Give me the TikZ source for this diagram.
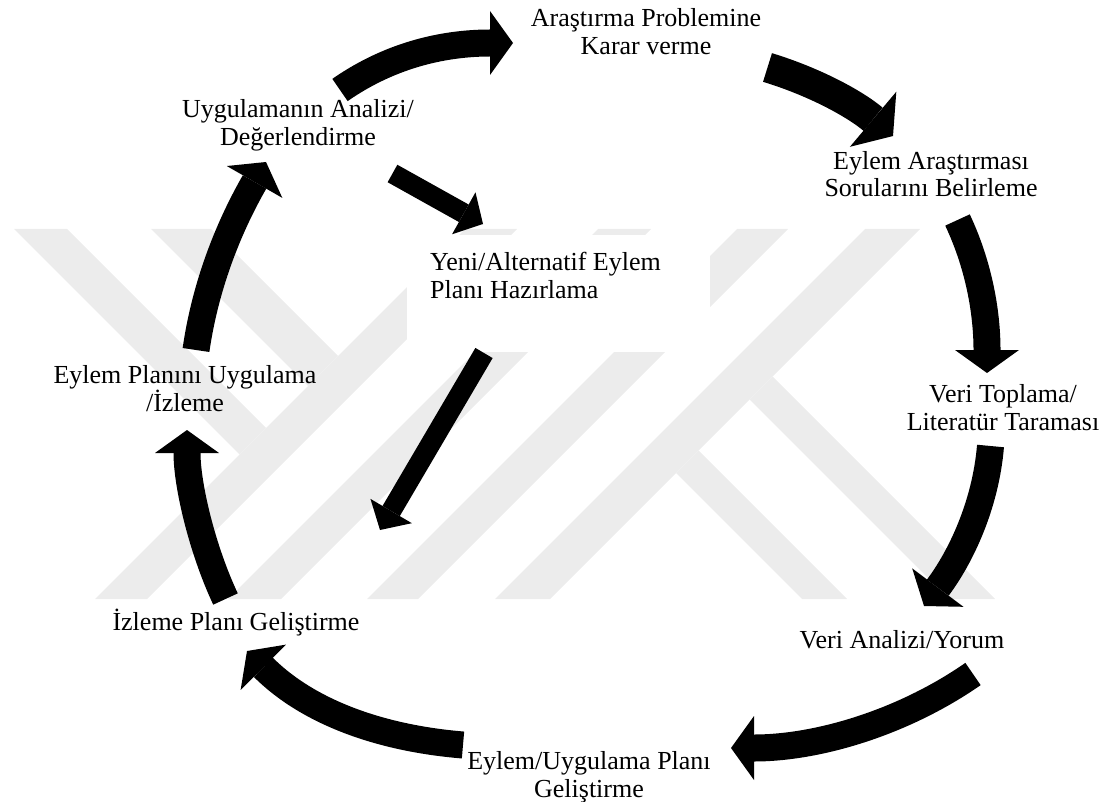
\documentclass[tikz,border=0pt]{standalone}
\usepackage{fontspec}
\setmainfont{Liberation Serif}
\usetikzlibrary{arrows.meta}
\definecolor{wm}{RGB}{236,236,236}
\begin{document}
\begin{tikzpicture}[x=1pt,y=-1pt,
  cyc/.style={draw=black, line width=27pt, -{Triangle[width=64pt,length=23pt,line width=0pt]}},
  bigcyc/.style={draw=black, line width=30pt, -{Triangle[width=72pt,length=26pt,line width=0pt]}},
  strarrow/.style={draw=black, line width=20pt, -{Triangle[width=48pt,length=22pt,line width=0pt]}},
  lbl/.style={font=\fontsize{26}{28}\selectfont, align=center, inner sep=0pt, anchor=base}]
\useasboundingbox (0,0) rectangle (1099,802);
% watermark
\fill[wm] (465,229) -- (517,229) -- (147,599) -- (95,599) -- cycle;
\fill[wm] (598,229) -- (651,229) -- (281,599) -- (228,599) -- cycle;
\fill[wm] (737,229) -- (788,229) -- (418,599) -- (367,599) -- cycle;
\fill[wm] (865,229) -- (920,229) -- (550,599) -- (495,599) -- cycle;
\fill[wm] (14,229) -- (67,229) -- (266,428) -- (239.5,454.5) -- cycle;
\fill[wm] (151,229) -- (211,229) -- (338,356) -- (308,386) -- cycle;
\fill[wm] (676,473) -- (698.5,450.5) -- (847,599) -- (802,599) -- cycle;
\fill[wm] (749.5,399.5) -- (772.5,376.5) -- (995,599) -- (949,599) -- cycle;
% white box behind the centre text
\fill[white] (407,235) rectangle (710,352);
% texts (anchor base = baseline of the last line)
\node[lbl] (n1) at (646,55) {Araştırma Problemine\\Karar verme};
\node[lbl] (n2) at (298,146) {Uygulamanın Analizi/\\Değerlendirme};
\node[lbl] (n3) at (931,197) {Eylem Araştırması\\Sorularını Belirleme};
\node[lbl] (n4) at (1003,430) {Veri Toplama/\\Literatür Taraması};
\node[lbl] (n5) at (902,648) {Veri Analizi/Yorum};
\node[lbl] (n6) at (589,797) {Eylem/Uygulama Planı\\Geliştirme};
\node[lbl] (n7) at (236,630) {İzleme Planı Geliştirme};
\node[lbl] (n8) at (185,411) {Eylem Planını Uygulama\\/İzleme};
\node[lbl, align=left, anchor=base west] (n9) at (430,298) {Yeni/Alternatif Eylem\\Planı Hazırlama};
% arrow end points
\coordinate (a1s) at (340,90);    \coordinate (a1e) at (513,43);
\coordinate (a2s) at (767.5,67.5); \coordinate (a2e) at (893,136);
\coordinate (a3s) at (957.5,220); \coordinate (a3e) at (987,373);
\coordinate (a4s) at (990.5,446); \coordinate (a4e) at (924,606);
\coordinate (a5s) at (973,674);   \coordinate (a5e) at (731,748);
\coordinate (a6s) at (463,745);   \coordinate (a6e) at (247,651);
\coordinate (a7s) at (225.5,599); \coordinate (a7e) at (187,430);
\coordinate (a8s) at (196,350);   \coordinate (a8e) at (266,162);
\coordinate (a9s) at (392.5,173.5); \coordinate (a9e) at (483,224);
\coordinate (a10s) at (484,353);  \coordinate (a10e) at (380,530);
% arrows
\draw[cyc] (a1s) .. controls (393,53) and (448,43) .. (a1e);
\draw[bigcyc] (a2s) .. controls (815,82) and (855,104) .. (a2e);
\draw[cyc] (a3s) .. controls (981,270) and (987,318) .. (a3e);
\draw[cyc] (a4s) .. controls (985.5,506) and (960,558) .. (a4e);
\draw[cyc] (a5s) .. controls (902.5,723) and (817,748) .. (a5e);
\draw[cyc] (a6s) .. controls (378,738) and (307,711) .. (a6e);
\draw[cyc] (a7s) .. controls (202,549) and (187,485) .. (a7e);
\draw[cyc] (a8s) .. controls (206,281) and (231,223) .. (a8e);
\draw[strarrow] (a9s) -- (a9e);
\draw[strarrow] (a10s) -- (a10e);
\end{tikzpicture}
\end{document}
